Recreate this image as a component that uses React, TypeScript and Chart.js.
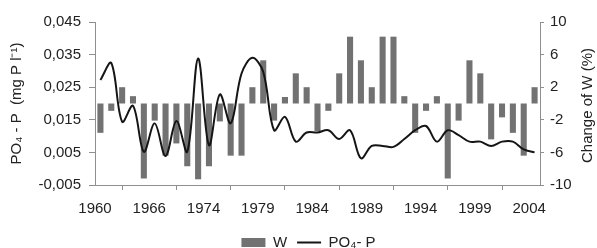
import React, { useEffect, useRef } from "react";
import { Chart, registerables } from "chart.js";

Chart.register(...registerables);

const categories: string[] = Array.from({ length: 41 }, (_, i) => String(1960 + i));
const tickPositions: number[] = [0, 5, 10, 15, 20, 25, 30, 35, 40];
const tickLabels: string[] = ["1960", "1966", "1974", "1979", "1984", "1989", "1994", "1999", "2004"];

const changeW: number[] = [
  -3.6, -0.9, 2.0, 0.9, -9.2, -2.1, -6.4, -4.9, -7.7, -9.3, -7.7, -2.2, -6.4, -6.4, 2.0, 5.3, -2.1, 0.8, 3.7, 2.0,
  -3.4, -0.9, 3.7, 8.2, 5.3, 2.0, 8.2, 8.2, 0.9, -3.6, -0.9, 0.9, -9.2, -2.1, 5.3, 3.7, -4.4, -1.7, -3.6, -6.4, 2.0,
];

const po4p: number[] = [
  0.0272, 0.0324, 0.0144, 0.0193, 0.0052, 0.0139, 0.0039, 0.0146, 0.0052, 0.0338, 0.0072, 0.0228, 0.0139, 0.0292,
  0.034, 0.0297, 0.0118, 0.0159, 0.0083, 0.0111, 0.0111, 0.0118, 0.0091, 0.0118, 0.0032, 0.007, 0.007, 0.0067,
  0.0091, 0.0118, 0.0131, 0.0083, 0.0118, 0.0103, 0.0083, 0.0083, 0.007, 0.0083, 0.0083, 0.0059, 0.005,
];

const rightTitle = "Change of W (%)";

const FONT = "'Liberation Sans', Arial, sans-serif";
const TEXT = "#222222";
const AXIS = "#8f8f8f";
const BAR = "#727272";

const rightTitlePlugin = {
  id: "rightTitle",
  afterDraw(chart: any) {
    const scale = chart.scales.y2;
    const area = chart.chartArea;
    const ctx = chart.ctx;
    ctx.save();
    ctx.translate(scale.right - 9, (area.top + area.bottom) / 2 + 2);
    ctx.rotate(-Math.PI / 2);
    ctx.textAlign = "center";
    ctx.textBaseline = "middle";
    ctx.font = `15px ${FONT}`;
    ctx.fillStyle = TEXT;
    ctx.fillText(rightTitle, 0, 0);
    ctx.restore();
  },
};

export default function App() {
  const ref = useRef<HTMLCanvasElement>(null);

  useEffect(() => {
    document.body.style.margin = "0";
    if (!ref.current) return;
    const chart = new Chart(ref.current, {
      type: "bar",
      data: {
        labels: categories,
        datasets: [
          {
            type: "line",
            label: "PO₄- P",
            data: po4p,
            yAxisID: "y",
            xAxisID: "x",
            borderColor: "#151515",
            backgroundColor: "#151515",
            borderWidth: 2,
            pointRadius: 0,
            tension: 0.35,
            pointStyle: "line",
          } as any,
          {
            type: "bar",
            label: "W",
            data: changeW,
            yAxisID: "y2",
            xAxisID: "x",
            backgroundColor: BAR,
            borderWidth: 0,
            categoryPercentage: 1,
            barPercentage: 0.56,
            pointStyle: "rect",
          } as any,
        ],
      },
      plugins: [rightTitlePlugin],
      options: {
        responsive: false,
        animation: false,
        layout: { padding: { top: 22, left: 20, right: 0, bottom: -12 } },
        plugins: {
          tooltip: { enabled: false },
          legend: {
            position: "bottom",
            reverse: true,
            labels: {
              usePointStyle: true,
              pointStyleWidth: 24,
              boxHeight: 9,
              padding: 10,
              color: TEXT,
              font: { family: FONT, size: 15 },
            },
          },
        },
        scales: {
          x: {
            type: "category",
            display: false,
            offset: true,
          },
          xTicks: {
            type: "linear",
            position: "bottom",
            min: 0,
            max: 41,
            offset: false,
            afterBuildTicks: (scale: any) => {
              scale.ticks = tickPositions.map((v) => ({ value: v }));
            },
            afterFit: (scale: any) => {
              scale.height = 40;
            },
            ticks: {
              autoSkip: false,
              maxRotation: 0,
              padding: 10,
              color: TEXT,
              font: { family: FONT, size: 15 },
              callback: (v: any) => {
                const idx = tickPositions.indexOf(Number(v));
                return idx >= 0 ? tickLabels[idx] : "";
              },
            },
            grid: { drawOnChartArea: false, tickLength: 5, color: AXIS },
            border: { display: true, color: AXIS, width: 1 },
          },
          y: {
            type: "linear",
            position: "left",
            min: -0.005,
            max: 0.045,
            ticks: {
              stepSize: 0.01,
              padding: 8,
              color: TEXT,
              font: { family: FONT, size: 15 },
              callback: (v: any) => Number(v).toFixed(3).replace(".", ","),
            },
            afterFit: (scale: any) => {
              scale.width = 75;
            },
            title: {
              display: true,
              text: "PO₄ - P  (mg P l⁻¹)",
              color: TEXT,
              font: { family: FONT, size: 15 },
              padding: { top: -12, bottom: 0 },
            },
            grid: { drawOnChartArea: false, tickLength: 6, color: AXIS },
            border: { display: true, color: AXIS, width: 1 },
          },
          y2: {
            type: "linear",
            position: "right",
            min: -10,
            max: 10,
            ticks: {
              stepSize: 4,
              padding: 6,
              color: TEXT,
              font: { family: FONT, size: 15 },
            },
            afterFit: (scale: any) => {
              scale.width = 57;
            },
            grid: { drawOnChartArea: false, tickLength: 4, color: AXIS },
            border: { display: true, color: AXIS, width: 1 },
          },
        },
      } as any,
    });
    return () => chart.destroy();
  }, []);

  return (
    <div style={{ width: 597, height: 248, overflow: "hidden" }}>
      <canvas ref={ref} width={597} height={248} />
    </div>
  );
}
